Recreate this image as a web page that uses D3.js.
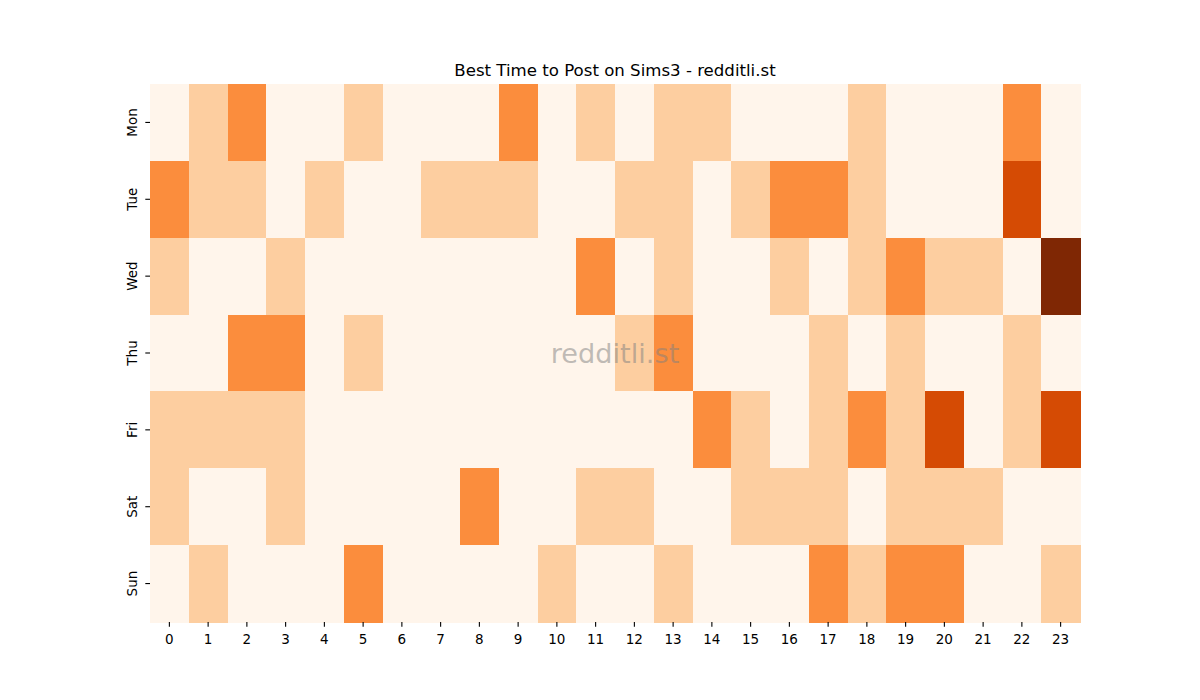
<!DOCTYPE html>
<html>
<head>
<meta charset="utf-8">
<script src="https://cdn.jsdelivr.net/npm/d3@7"></script>
<style>
    body { margin: 0; background: #fff; }
    svg text { font-family: "DejaVu Sans", sans-serif; }
</style>
</head>
<body>
<svg id="chart" width="1200" height="700"></svg>
<script>
'use strict';

// rows of the heatmap, Mon..Sun
var days = ['Mon', 'Tue', 'Wed', 'Thu', 'Fri', 'Sat', 'Sun'];
// columns, hour of day
var hours = d3.range(24);

// one value per hour, per day
var monValues = [0, 1, 2, 0, 0, 1, 0, 0, 0, 2, 0, 1, 0, 1, 1, 0, 0, 0, 1, 0, 0, 0, 2, 0];
var tueValues = [2, 1, 1, 0, 1, 0, 0, 1, 1, 1, 0, 0, 1, 1, 0, 1, 2, 2, 1, 0, 0, 0, 3, 0];
var wedValues = [1, 0, 0, 1, 0, 0, 0, 0, 0, 0, 0, 2, 0, 1, 0, 0, 1, 0, 1, 2, 1, 1, 0, 4];
var thuValues = [0, 0, 2, 2, 0, 1, 0, 0, 0, 0, 0, 0, 1, 2, 0, 0, 0, 1, 0, 1, 0, 0, 1, 0];
var friValues = [1, 1, 1, 1, 0, 0, 0, 0, 0, 0, 0, 0, 0, 0, 2, 1, 0, 1, 2, 1, 3, 0, 1, 3];
var satValues = [1, 0, 0, 1, 0, 0, 0, 0, 2, 0, 0, 1, 1, 0, 0, 1, 1, 1, 0, 1, 1, 1, 0, 0];
var sunValues = [0, 1, 0, 0, 0, 2, 0, 0, 0, 0, 1, 0, 0, 1, 0, 0, 0, 2, 1, 2, 2, 0, 0, 1];

var rows = [monValues, tueValues, wedValues, thuValues, friValues, satValues, sunValues];

var chartTitle = 'Best Time to Post on Sims3 - redditli.st';
var watermark = 'redditli.st';

var margin = {top: 84, right: 120, bottom: 78, left: 150};
var width = 1200 - margin.left - margin.right;
var height = 700 - margin.top - margin.bottom;

var cells = [];
var i;
var j;

for (i = 0; i < rows.length; i++) {
    for (j = 0; j < rows[i].length; j++) {
        cells.push({day: days[i], hour: hours[j], value: rows[i][j]});
    }
}

var x = d3.scaleBand().domain(hours).range([0, width]);
var y = d3.scaleBand().domain(days).range([0, height]);
var color = d3.scaleSequential(d3.interpolateOranges)
    .domain([0, d3.max(cells, function (d) { return d.value; })]);

var svg = d3.select('#chart');
var g = svg.append('g')
    .attr('transform', 'translate(' + margin.left + ',' + margin.top + ')');

g.selectAll('rect.cell')
    .data(cells)
    .enter()
    .append('rect')
    .attr('class', 'cell')
    .attr('x', function (d) { return x(d.hour); })
    .attr('y', function (d) { return y(d.day); })
    .attr('width', x.bandwidth() + 0.5)
    .attr('height', y.bandwidth() + 0.5)
    .attr('fill', function (d) { return color(d.value); })
    .attr('shape-rendering', 'crispEdges');

var xAxis = g.append('g')
    .attr('transform', 'translate(0,' + height + ')')
    .call(d3.axisBottom(x).tickSize(4.7).tickPadding(4.5));

var yAxis = g.append('g')
    .call(d3.axisLeft(y).tickSize(4.7).tickPadding(4.5));

[xAxis, yAxis].forEach(function (ax) {
    ax.select('.domain').remove();
    ax.selectAll('.tick line').attr('stroke', '#000').attr('stroke-width', 1.1);
    ax.selectAll('.tick text')
        .attr('fill', '#000')
        .style('font-size', '13.5px');
});

xAxis.selectAll('.tick text').attr('dy', '0.95em');

yAxis.selectAll('.tick text')
    .attr('x', null)
    .attr('dy', null)
    .attr('text-anchor', 'middle')
    .attr('transform', 'translate(-13,0) rotate(-90)');

svg.append('text')
    .attr('x', margin.left + width / 2)
    .attr('y', margin.top - 8)
    .attr('text-anchor', 'middle')
    .style('font-size', '16.6px')
    .attr('fill', '#000')
    .text(chartTitle);

svg.append('text')
    .attr('x', margin.left + width / 2)
    .attr('y', margin.top + height / 2)
    .attr('text-anchor', 'middle')
    .attr('dominant-baseline', 'central')
    .style('font-size', '27.2px')
    .attr('fill', 'gray')
    .attr('fill-opacity', 0.5)
    .text(watermark);
</script>
</body>
</html>
